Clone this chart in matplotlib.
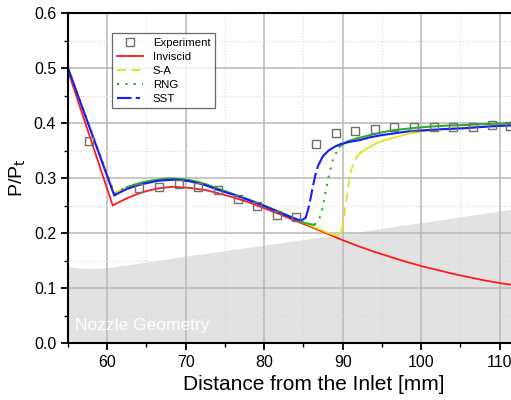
import numpy as np
import matplotlib.pyplot as plt
from matplotlib.ticker import MultipleLocator
from matplotlib.lines import Line2D

plt.rcParams['font.family'] = ['Liberation Sans', 'DejaVu Sans']

# experimental wall pressure
x_exp = [57.7, 64.1, 66.6, 69.1, 71.6, 74.1, 76.7, 79.1, 81.6, 84.1,
         86.6, 89.1, 91.6, 94.1, 96.6, 99.1, 101.6, 104.1, 106.6, 109.0, 111.3]
p_exp = [0.367, 0.281, 0.284, 0.290, 0.283, 0.278, 0.262, 0.250, 0.233, 0.229,
         0.361, 0.382, 0.386, 0.389, 0.392, 0.393, 0.393, 0.393, 0.392, 0.396, 0.395]

# inviscid solution
x_inv = [55, 60.7, 61.5, 62.5, 63.5, 64.5, 65.5, 66.5, 67.5, 68.5, 69.5, 70.5,
         71.5, 72.5, 74, 76, 78, 80, 82, 84, 86, 88, 90, 92, 94, 96, 98, 100,
         102, 104, 106, 108, 110, 112]
p_inv = [0.495, 0.250, 0.256, 0.263, 0.269, 0.274, 0.278, 0.281, 0.283, 0.284,
         0.283, 0.282, 0.280, 0.278, 0.273, 0.265, 0.256, 0.245, 0.234, 0.222,
         0.211, 0.199, 0.187, 0.176, 0.166, 0.157, 0.148, 0.140, 0.133, 0.126,
         0.120, 0.114, 0.109, 0.105]

# Spalart-Allmaras
x_sa = [55, 60.9, 61.5, 62.5, 63.5, 64.5, 65.5, 66.5, 67.5, 68.5, 69.5, 70.5,
        71.5, 72.5, 74, 76, 78, 80, 82, 84, 85, 86, 87, 88, 88.8, 89.4, 89.7,
        89.9, 90.1, 90.3, 90.5, 90.7, 90.9, 91.1, 91.4, 91.8, 92.3, 92.8, 93.5,
        94.3, 95.2, 96.5, 98, 99.4, 101.5, 103.7, 106, 108, 110, 112]
p_sa = [0.500, 0.272, 0.277, 0.283, 0.288, 0.292, 0.295, 0.297, 0.299, 0.299,
        0.298, 0.296, 0.293, 0.289, 0.281, 0.271, 0.261, 0.250, 0.238, 0.226,
        0.219, 0.213, 0.207, 0.201, 0.197, 0.196, 0.199, 0.205, 0.220, 0.242,
        0.263, 0.284, 0.301, 0.315, 0.327, 0.339, 0.346, 0.351, 0.357, 0.363,
        0.368, 0.373, 0.379, 0.383, 0.387, 0.390, 0.392, 0.393, 0.396, 0.398]

# RNG k-epsilon
x_rng = [55, 60.9, 61.5, 62.5, 63.5, 64.5, 65.5, 66.5, 67.5, 68.5, 69.5, 70.5,
         71.5, 72.5, 74, 76, 78, 80, 82, 84, 85, 85.8, 86.4, 86.9, 87.3, 87.7,
         88.2, 88.8, 89.6, 90.5, 91.8, 93.5, 95, 96.5, 98.5, 100.7, 103, 105,
         108, 112]
p_rng = [0.500, 0.272, 0.277, 0.283, 0.288, 0.292, 0.295, 0.297, 0.299, 0.299,
         0.298, 0.296, 0.293, 0.289, 0.281, 0.271, 0.261, 0.250, 0.238, 0.226,
         0.219, 0.216, 0.215, 0.222, 0.236, 0.266, 0.302, 0.336, 0.357, 0.366,
         0.372, 0.378, 0.383, 0.387, 0.390, 0.393, 0.395, 0.396, 0.398, 0.400]

# SST k-omega
x_sst = [55, 60.9, 61.5, 62.5, 63.5, 64.5, 65.5, 66.5, 67.5, 68.5, 69.5, 70.5,
         71.5, 72.5, 74, 76, 78, 80, 82, 83.5, 84.3, 84.9, 85.3, 85.6, 85.9,
         86.2, 86.5, 86.8, 87.1, 87.5, 88.2, 89.0, 89.8, 91, 92.2, 93.5, 95,
         96.5, 98.5, 100.7, 103, 105, 107, 109, 112]
p_sst = [0.500, 0.268, 0.273, 0.280, 0.285, 0.289, 0.292, 0.295, 0.296, 0.297,
         0.296, 0.294, 0.291, 0.287, 0.279, 0.270, 0.260, 0.249, 0.237, 0.228,
         0.224, 0.224, 0.228, 0.243, 0.262, 0.284, 0.304, 0.320, 0.329, 0.340,
         0.350, 0.357, 0.362, 0.366, 0.369, 0.374, 0.378, 0.381, 0.385, 0.387,
         0.389, 0.390, 0.392, 0.394, 0.396]

# nozzle wall contour (scaled)
x_noz = [55, 56, 57, 58, 59, 60, 61, 62, 63, 65, 70, 80, 90, 100, 112]
y_noz = [0.139, 0.137, 0.136, 0.136, 0.136, 0.137, 0.139, 0.141, 0.143, 0.147,
         0.158, 0.178, 0.198, 0.219, 0.244]


def draw_series(ax, x, y, color, spans, dashes, lw=1.4):
    # solid where the curve is flat, patterned inside the given x spans
    x = np.asarray(x)
    y = np.asarray(y)
    cuts = [x[0]] + [v for s in spans for v in s] + [x[-1]]
    for k in range(len(cuts) - 1):
        m = (x >= cuts[k]) & (x <= cuts[k + 1])
        if m.sum() < 2:
            continue
        if k % 2 == 1:
            ax.plot(x[m], y[m], color=color, lw=lw, dashes=dashes)
        else:
            ax.plot(x[m], y[m], color=color, lw=lw)


fig = plt.figure(figsize=(5.11, 4.0), dpi=100)
# the axes run past the right border of the figure, only up to ~111 mm is shown
ax = fig.add_axes([0.133, 0.1425, 0.963, 0.825])

ax.fill_between(x_noz, 0, y_noz, color='#e2e2e2', lw=0, zorder=0.2)
ax.text(55.9, 0.031, 'Nozzle Geometry', color='white', fontsize=12.5,
        va='center')

c_inv, c_sa, c_rng, c_sst = '#ff1a1a', '#e3e31a', '#22b322', '#1a1aff'
d_sa, d_rng, d_sst = (5, 3), (1, 3), (7, 2, 2, 2)

ax.plot(x_inv, p_inv, '-', color=c_inv, lw=1.3)
draw_series(ax, x_sa, p_sa, c_sa, [(89.9, 92.3)], (5, 3), lw=1.3)
draw_series(ax, x_rng, p_rng, c_rng, [(55, 62.5), (86.4, 89.6)], (1, 3), lw=1.5)
draw_series(ax, x_sst, p_sst, c_sst, [(85.3, 87.1)], (6, 2), lw=1.5)
ax.plot(x_exp, p_exp, 's', mfc='none', mec='#6e6e6e', ms=6, mew=1.0, zorder=5)

ax.set_xlim(55, 117.7)
ax.set_ylim(0, 0.6)
ax.xaxis.set_major_locator(MultipleLocator(10))
ax.xaxis.set_minor_locator(MultipleLocator(5))
ax.yaxis.set_major_locator(MultipleLocator(0.1))
ax.yaxis.set_minor_locator(MultipleLocator(0.05))
ax.yaxis.set_major_formatter(plt.FormatStrFormatter('%.1f'))
ax.grid(which='major', color='#b8b8b8', lw=1.1, ls='-')
ax.grid(which='minor', color='#d8d8d8', lw=0.8, ls=':')
ax.tick_params(which='major', direction='out', length=5, width=1.3, labelsize=11.5)
ax.tick_params(which='minor', direction='out', length=3, width=1.0)
for s in ['left', 'bottom', 'top']:
    ax.spines[s].set_linewidth(1.5)
ax.spines['right'].set_visible(False)

ax.set_xlabel('Distance from the Inlet [mm]', fontsize=15)
ax.set_ylabel('P/P$_\\mathrm{t}$', fontsize=14)

handles = [
    Line2D([], [], ls='none', marker='s', mfc='none', mec='#6e6e6e', ms=5.5, mew=1.0),
    Line2D([], [], color=c_inv, lw=1.3),
    Line2D([], [], color=c_sa, lw=1.3, dashes=d_sa),
    Line2D([], [], color=c_rng, lw=1.5, dashes=d_rng),
    Line2D([], [], color=c_sst, lw=1.5, dashes=d_sst),
]
labels = ['Experiment', 'Inviscid', 'S-A', 'RNG', 'SST']
leg = ax.legend(handles, labels, loc='upper left', bbox_to_anchor=(0.0894, 0.939),
                fontsize=8.2, frameon=True, fancybox=False, edgecolor='#444444',
                handlelength=2.3, handletextpad=0.9, borderpad=0.4,
                labelspacing=0.35, borderaxespad=0)
leg.get_frame().set_linewidth(0.9)

fig.savefig('out.png', dpi=100)
